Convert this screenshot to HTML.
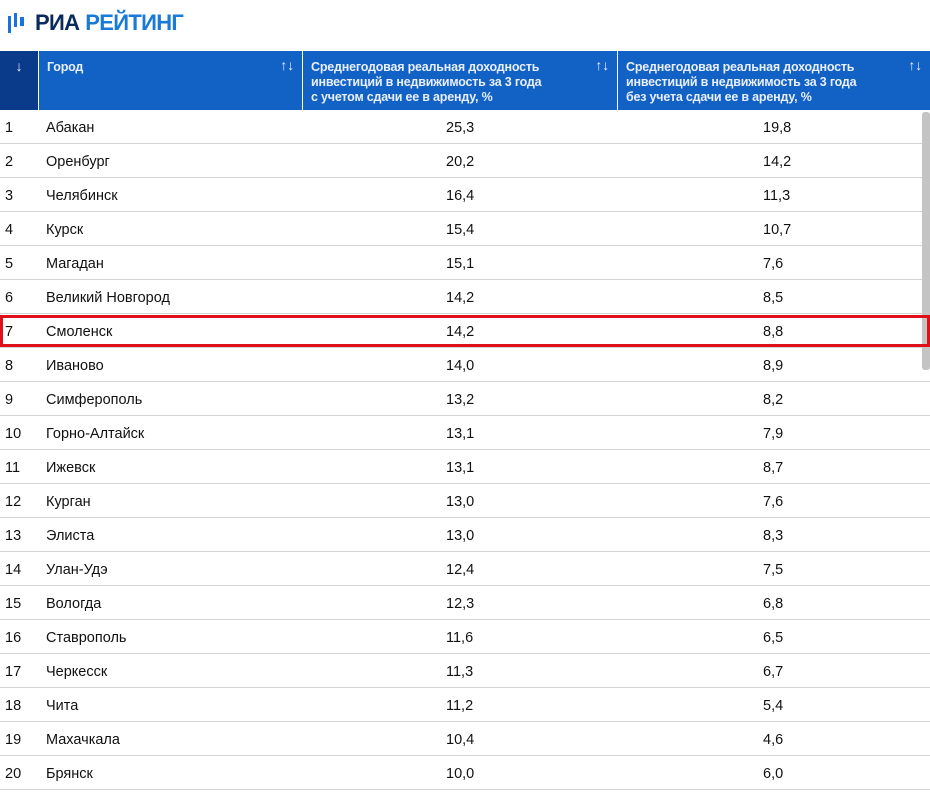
<!DOCTYPE html><html><head><meta charset="utf-8"><style>
body{margin:0;width:930px;height:793px;background:#fff;font-family:"Liberation Sans","DejaVu Sans",sans-serif;position:relative;overflow:hidden}
.logo{position:absolute;left:7px;top:9px;height:28px;display:flex;align-items:center}
.logo b{font-size:22px;font-weight:bold;letter-spacing:-0.7px}
.hdr{position:absolute;top:51px;left:0;width:930px;height:59px}
.h{position:absolute;top:0;height:59px;background:#1261c4;color:#e8efff;font-size:12.5px;font-weight:bold;line-height:15px;box-sizing:border-box;padding:9px 30px 0 8px;white-space:nowrap;letter-spacing:-0.2px}
.h .s{position:absolute;right:8px;top:7px;font-size:14px;font-weight:normal}
.row{position:absolute;left:0;width:930px;height:34px;border-bottom:1px solid #d4d4d4;box-sizing:border-box;font-size:14.5px;color:#111}
.row span{position:absolute;top:10px}
.c1{left:5px}.c2{left:46px}.c3{left:446px}.c4{left:763px}
</style></head><body>
<div class="logo"><svg width="26" height="24"><rect x="1" y="5" width="3" height="17" fill="#1a73d8"/><rect x="7" y="2" width="3" height="14" fill="#1a73d8"/><rect x="13" y="6" width="4" height="9" fill="#1a73d8"/></svg><b style="color:#0b2a5c;margin-left:2px">РИА</b><b style="color:#1a7ad8;margin-left:6px">РЕЙТИНГ</b></div>
<div class="hdr">
<div class="h" style="left:0;width:38px;background:#0a3b8a;text-align:center;padding:8px 0 0 0;font-weight:normal;font-size:14px">↓</div>
<div class="h" style="left:39px;width:263px">Город<span class="s">↑↓</span></div>
<div class="h" style="left:303px;width:314px">Среднегодовая реальная доходность<br>инвестиций в недвижимость за 3 года<br>с учетом сдачи ее в аренду, %<span class="s">↑↓</span></div>
<div class="h" style="left:618px;width:312px">Среднегодовая реальная доходность<br>инвестиций в недвижимость за 3 года<br>без учета сдачи ее в аренду, %<span class="s">↑↓</span></div>
</div>
<div class="row" style="top:110px"><span class="c1">1</span><span class="c2">Абакан</span><span class="c3">25,3</span><span class="c4">19,8</span></div>
<div class="row" style="top:144px"><span class="c1">2</span><span class="c2">Оренбург</span><span class="c3">20,2</span><span class="c4">14,2</span></div>
<div class="row" style="top:178px"><span class="c1">3</span><span class="c2">Челябинск</span><span class="c3">16,4</span><span class="c4">11,3</span></div>
<div class="row" style="top:212px"><span class="c1">4</span><span class="c2">Курск</span><span class="c3">15,4</span><span class="c4">10,7</span></div>
<div class="row" style="top:246px"><span class="c1">5</span><span class="c2">Магадан</span><span class="c3">15,1</span><span class="c4">7,6</span></div>
<div class="row" style="top:280px"><span class="c1">6</span><span class="c2">Великий Новгород</span><span class="c3">14,2</span><span class="c4">8,5</span></div>
<div class="row" style="top:314px"><span class="c1">7</span><span class="c2">Смоленск</span><span class="c3">14,2</span><span class="c4">8,8</span></div>
<div class="row" style="top:348px"><span class="c1">8</span><span class="c2">Иваново</span><span class="c3">14,0</span><span class="c4">8,9</span></div>
<div class="row" style="top:382px"><span class="c1">9</span><span class="c2">Симферополь</span><span class="c3">13,2</span><span class="c4">8,2</span></div>
<div class="row" style="top:416px"><span class="c1">10</span><span class="c2">Горно-Алтайск</span><span class="c3">13,1</span><span class="c4">7,9</span></div>
<div class="row" style="top:450px"><span class="c1">11</span><span class="c2">Ижевск</span><span class="c3">13,1</span><span class="c4">8,7</span></div>
<div class="row" style="top:484px"><span class="c1">12</span><span class="c2">Курган</span><span class="c3">13,0</span><span class="c4">7,6</span></div>
<div class="row" style="top:518px"><span class="c1">13</span><span class="c2">Элиста</span><span class="c3">13,0</span><span class="c4">8,3</span></div>
<div class="row" style="top:552px"><span class="c1">14</span><span class="c2">Улан-Удэ</span><span class="c3">12,4</span><span class="c4">7,5</span></div>
<div class="row" style="top:586px"><span class="c1">15</span><span class="c2">Вологда</span><span class="c3">12,3</span><span class="c4">6,8</span></div>
<div class="row" style="top:620px"><span class="c1">16</span><span class="c2">Ставрополь</span><span class="c3">11,6</span><span class="c4">6,5</span></div>
<div class="row" style="top:654px"><span class="c1">17</span><span class="c2">Черкесск</span><span class="c3">11,3</span><span class="c4">6,7</span></div>
<div class="row" style="top:688px"><span class="c1">18</span><span class="c2">Чита</span><span class="c3">11,2</span><span class="c4">5,4</span></div>
<div class="row" style="top:722px"><span class="c1">19</span><span class="c2">Махачкала</span><span class="c3">10,4</span><span class="c4">4,6</span></div>
<div class="row" style="top:756px"><span class="c1">20</span><span class="c2">Брянск</span><span class="c3">10,0</span><span class="c4">6,0</span></div>
<div style="position:absolute;left:922px;top:112px;width:8px;height:258px;background:#c4c4c4;border-radius:3px"></div>
<div style="position:absolute;left:0;top:315px;width:930px;height:32px;border:3px solid #e0101a;box-sizing:border-box"></div>
</body></html>
